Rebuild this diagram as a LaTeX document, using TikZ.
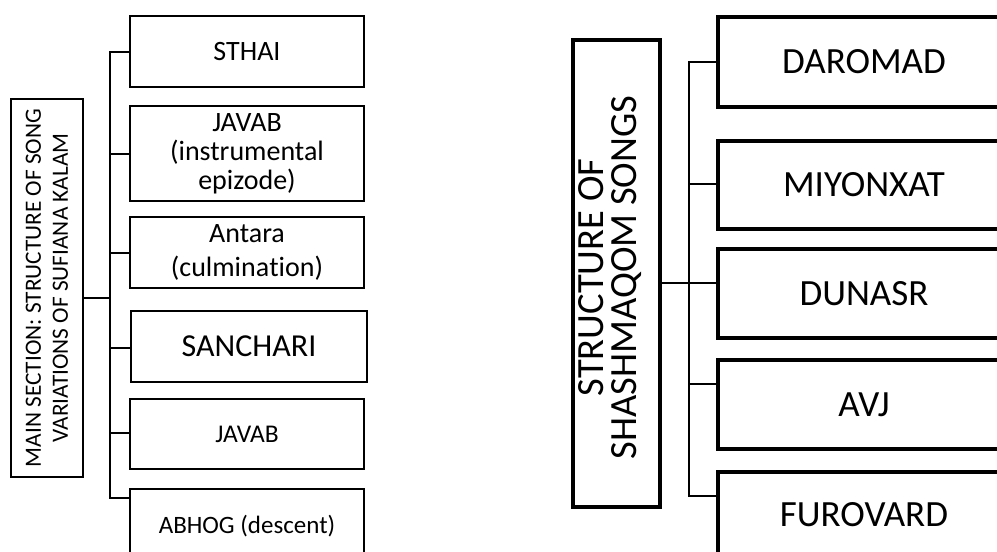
\documentclass[tikz,border=0pt]{standalone}
\usepackage{fontspec}
\setmainfont[Ligatures=NoCommon]{Carlito}
\begin{document}
\begin{tikzpicture}[x=1pt,y=-1pt,
  lbox/.style={draw,line width=2pt,inner sep=0pt,outer sep=0pt,align=center},
  rbox/.style={draw,line width=3.3pt,inner sep=0pt,outer sep=0pt,align=center,
    minimum width=292pt,font=\fontsize{37}{40}\selectfont},
  lmain/.style={draw,line width=2pt,inner sep=0pt,outer sep=0pt},
  rmain/.style={draw,line width=3.5pt,inner sep=0pt,outer sep=0pt},
  lconn/.style={line width=2pt},
  rconn/.style={line width=1.7pt}]
\useasboundingbox (0,0) rectangle (997,552);
\clip (0,0) rectangle (997,552);
% ---------- left diagram ----------
\node[lmain,minimum width=72pt,minimum height=378pt] (mL) at (47,288) {};
\node[rotate=90,align=center,inner sep=0pt,font=\fontsize{23.3}{27}\selectfont] (mLt) at (mL.center)
  {MAIN SECTION: STRUCTURE OF SONG\\VARIATIONS OF SUFIANA KALAM};
\node[lbox,minimum width=234pt,minimum height=71pt,font=\fontsize{28}{29}\selectfont] (sthai) at (247,51.5) {STHAI};
\node[lbox,minimum width=234pt,minimum height=95pt,font=\fontsize{28}{29}\selectfont] (javabA) at (247,153.5) {JAVAB\\(instrumental\\epizode)};
\node[lbox,minimum width=234pt,minimum height=71pt,font=\fontsize{28}{34}\selectfont] (antara) at (247,252.5) {Antara\\(culmina\kern0pt tion)};
\node[lbox,line width=2.6pt,minimum width=236pt,minimum height=71pt,font=\fontsize{32}{34}\selectfont] (sanchari) at (249,346.5) {SANCHARI};
\node[lbox,minimum width=234pt,minimum height=70pt,font=\fontsize{25.5}{28}\selectfont] (javabB) at (247,434) {JAVAB};
\node[lbox,minimum width=234pt,minimum height=74pt,font=\fontsize{25}{28}\selectfont] (abhog) at (247,526) {ABHOG (descent)};
\draw[lconn] ([yshift=-10pt]mL.east) -- ++(27pt,0) coordinate (bL);
\foreach \n/\s in {sthai/0,javabA/0,antara/0,sanchari/-1.5,javabB/1,abhog/28}
  \draw[lconn] (bL) |- ([yshift=\s pt]\n.west);
% ---------- right diagram ----------
\node[rmain,minimum width=87pt,minimum height=467pt] (mR) at (616.5,273.5) {};
\node[rotate=90,align=center,inner sep=0pt,font=\fontsize{38.5}{33}\selectfont] (mRt) at ([xshift=-6pt,yshift=-4pt]mR.center)
  {STRUCTURE OF\\SHASHMAQOM SONGS};
\node[rbox,minimum height=90pt] (daromad) at (864,62) {DAROMAD};
\node[rbox,minimum height=88pt] (miyonxat) at (864,185) {MIYONXAT};
\node[rbox,minimum height=89pt] (dunasr) at (864,293.5) {DUNASR};
\node[rbox,minimum height=89pt] (avj) at (864,404.5) {AVJ};
\node[rbox,minimum height=86pt] (furovard) at (864,515) {FUROVARD};
\draw[rconn] ([yshift=-9.5pt]mR.east) -- ++(29pt,0) coordinate (bR);
\foreach \n/\s in {daromad/0,miyonxat/1,dunasr/10.5,avj/20.5,furovard/19}
  \draw[rconn] (bR) |- ([yshift=\s pt]\n.west);
\end{tikzpicture}
\end{document}
